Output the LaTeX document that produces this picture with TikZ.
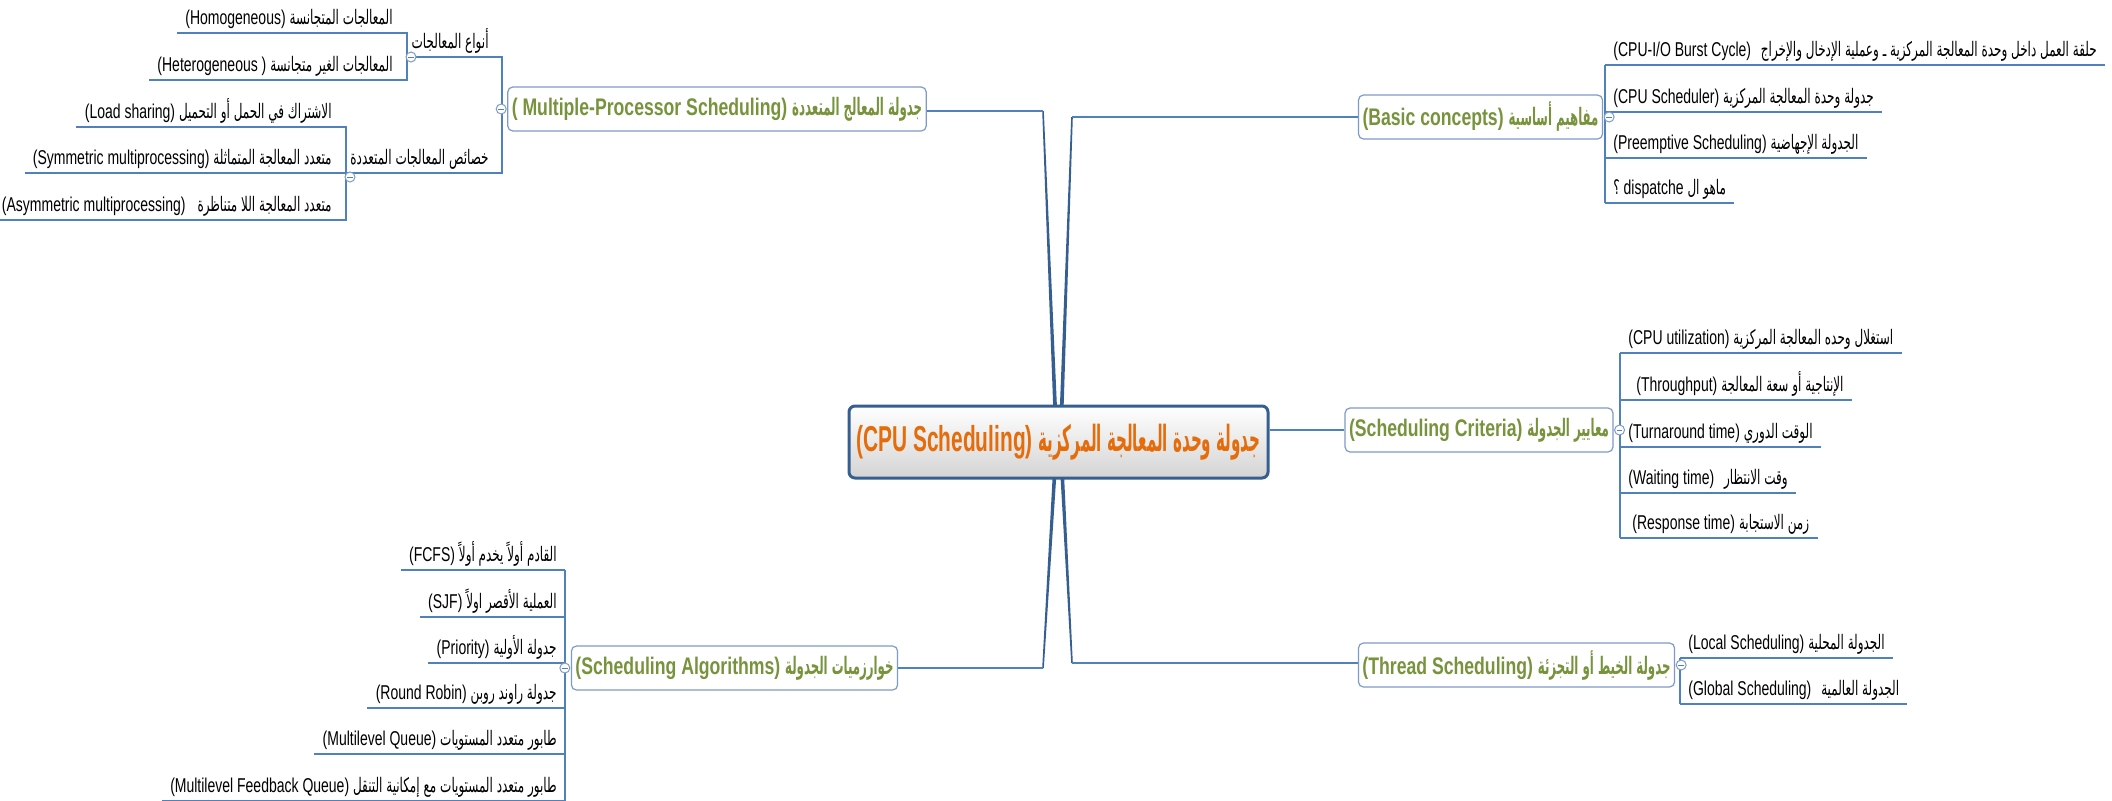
\documentclass[tikz,border=0pt]{standalone}
\usepackage{fontspec}
\setmainfont{Liberation Sans}[FakeStretch=0.7]
\newfontfamily\topicfont{Liberation Sans}[FakeStretch=0.735]
\newfontfamily\rootfont{Liberation Sans}[FakeStretch=0.58]
\newfontfamily\arabicfont[Script=Arabic,FakeStretch=0.6]{DejaVu Sans}
\newfontfamily\arabictopic[Script=Arabic,FakeStretch=0.49]{DejaVu Sans}
\newfontfamily\arabicroot[Script=Arabic,FakeStretch=0.42]{DejaVu Sans}
\TeXXeTstate=1
\newcommand{\ar}[1]{{\arabicfont\beginR#1\endR}}
\newcommand{\art}[1]{{\arabictopic\bfseries\beginR#1\endR}}
\newcommand{\arr}[1]{{\arabicroot\bfseries\beginR#1\endR}}
\usetikzlibrary{backgrounds}
\definecolor{topicgreen}{HTML}{77933C}
\definecolor{rootorange}{HTML}{E46C0A}
\definecolor{linkblue}{HTML}{4F81BD}
\definecolor{rootblue}{HTML}{365F91}
\definecolor{boxblue}{HTML}{7E9BC8}
\tikzset{
  root/.style={draw=rootblue, line width=1.5pt, rounded corners=3pt, top color=white,
    bottom color=black!17, minimum width=209.5pt, minimum height=36pt,
    font=\rootfont\fontsize{18}{20}\selectfont\bfseries, text=rootorange, inner sep=2pt},
  topic/.style={draw=boxblue, line width=0.6pt, rounded corners=2.5pt, fill=white,
    minimum height=22pt, font=\topicfont\fontsize{12}{14}\selectfont\bfseries, text=topicgreen, inner sep=2pt},
  leaf/.style={font=\fontsize{10}{12}\selectfont, inner xsep=4pt, inner ysep=2pt, text depth=2.2pt},
  link/.style={draw=linkblue, line width=0.7pt},
  taper/.style={fill=rootblue},
  fold/.style={circle, draw=boxblue, fill=white, line width=0.5pt, minimum size=5pt, inner sep=0pt,
    path picture={\draw[linkblue, line width=0.5pt]
      ([xshift=-1.4pt]path picture bounding box.center) -- ([xshift=1.4pt]path picture bounding box.center);}},
}
\begin{document}
\begin{tikzpicture}[x=0.5pt,y=-0.5pt]
  \useasboundingbox (0,0) rectangle (2112,800);
  % central topic
  \node[root] (cpu) at (1058.5,442) {(CPU Scheduling) \arr{جدولة وحدة المعالجة المركزية}};
  % main topics
  \node[topic, minimum width=203pt] (mp) at (717,109) {( Multiple-Processor Scheduling) \art{جدولة المعالج المتعددة}};
  \node[topic, minimum width=114.5pt] (basic) at (1480.5,117) {(Basic concepts) \art{مفاهيم أساسية}};
  \node[topic, minimum width=130pt] (crit) at (1479,430) {(Scheduling Criteria) \art{معايير الجدولة}};
  \node[topic, minimum width=153.5pt] (thread) at (1516.5,665) {(Thread Scheduling) \art{جدولة الخيط أو التجزئة}};
  \node[topic, minimum width=158.5pt] (algo) at (734.5,668) {(Scheduling Algorithms) \art{خوارزميات الجدولة}};
  \coordinate (tl) at (1043,111);
  \coordinate (tr) at (1072,117);
  \coordinate (bl) at (1043,668);
  \coordinate (br) at (1072,663);
  % basic concepts
  \node[leaf, anchor=south west] (b1) at (1605,65) {(CPU-I/O Burst Cycle)\hspace{3pt} \ar{حلقة العمل داخل وحدة المعالجة المركزية ـ وعملية الإدخال والإخراج}};
  \node[leaf, anchor=south west] (b2) at (1605,112) {(CPU Scheduler) \ar{جدولة وحدة المعالجة المركزية}};
  \node[leaf, anchor=south west] (b3) at (1605,158) {(Preemptive Scheduling) \ar{الجدولة الإجهاضية}};
  \node[leaf, anchor=south west] (b4) at (1605,203) {\ar{؟} dispatche \ar{ماهو ال}};
  % scheduling criteria
  \node[leaf, anchor=south west] (c1) at (1620,353) {(CPU utilization) \ar{استغلال وحده المعالجة المركزية}};
  \node[leaf, anchor=south west] (c2) at (1620,400) {\hspace{4pt}(Throughput) \ar{الإنتاجية أو سعة المعالجة}};
  \node[leaf, anchor=south west] (c3) at (1620,447) {(Turnaround time) \ar{الوقت الدوري}};
  \node[leaf, anchor=south west] (c4) at (1620,493) {(Waiting time)\hspace{3pt} \ar{وقت الانتظار}};
  \node[leaf, anchor=south west] (c5) at (1620,538) {\hspace{2pt}(Response time) \ar{زمن الاستجابة}};
  % thread scheduling
  \node[leaf, anchor=south west] (t1) at (1680,658) {(Local Scheduling) \ar{الجدولة المحلية}};
  \node[leaf, anchor=south west] (t2) at (1680,704) {(Global Scheduling)\hspace{3pt} \ar{الجدولة العالمية}};
  % scheduling algorithms
  \node[leaf, anchor=south east] (a1) at (565,570) {(FCFS) \ar{القادم أولاً يخدم أولاً}};
  \node[leaf, anchor=south east] (a2) at (565,617) {(SJF) \ar{العملية الأقصر اولاً}};
  \node[leaf, anchor=south east] (a3) at (565,663) {(Priority) \ar{جدولة الأولية}};
  \node[leaf, anchor=south east] (a4) at (565,708) {(Round Robin) \ar{جدولة راوند روبن}};
  \node[leaf, anchor=south east] (a5) at (565,754) {(Multilevel Queue) \ar{طابور متعدد المستويات}};
  \node[leaf, anchor=south east] (a6) at (565,801) {(Multilevel Feedback Queue) \ar{طابور متعدد المستويات مع إمكانية التنقل}};
  % multiple-processor scheduling
  \coordinate (mpk) at (502,109);
  \coordinate (kk) at (407,57);
  \coordinate (pk) at (346,173);
  \node[leaf, anchor=south east] (kinds) at (497,57) {\ar{أنواع المعالجات}};
  \node[leaf, anchor=south east] (props) at (497,173) {\ar{خصائص المعالجات المتعددة}};
  \node[leaf, anchor=south east] (homo) at (401,33) {(Homogeneous) \ar{المعالجات المتجانسة}};
  \node[leaf, anchor=south east] (hetero) at (401,80) {(Heterogeneous ) \ar{المعالجات الغير متجانسة}};
  \node[leaf, anchor=south east] (load) at (340,127) {(Load sharing) \ar{الاشتراك في الحمل أو التحميل}};
  \node[leaf, anchor=south east] (sym) at (340,173) {(Symmetric multiprocessing) \ar{متعدد المعالجة المتماثلة}};
  \node[leaf, anchor=south east] (asym) at (340,220) {(Asymmetric multiprocessing)\hspace{6pt}\ar{متعدد المعالجة اللا متناظرة}};
  % fold markers
  \node[fold] (mpf) at ([xshift=-3pt]mp.west) {};
  \node[fold] (kf) at ([xshift=2pt]kk) {};
  \node[fold] (pf) at ([xshift=2pt,yshift=-2pt]pk) {};
  \node[fold] (basicf) at ([xshift=3pt]basic.east) {};
  \node[fold] (critf) at ([xshift=3pt]crit.east) {};
  \node[fold] (threadf) at ([xshift=3pt]thread.east) {};
  \node[fold] (algof) at ([xshift=-3pt]algo.west) {};
  \begin{scope}[on background layer]
    \fill[white] (0,0) rectangle (2112,800);
    % tapered branches
    \fill[taper] ([xshift=-2pt]cpu.center) -- (cpu.center) -- ([xshift=0.4pt]tl) -- ([xshift=-0.4pt]tl) -- cycle;
    \fill[taper] (cpu.center) -- ([xshift=2pt]cpu.center) -- ([xshift=0.4pt]tr) -- ([xshift=-0.4pt]tr) -- cycle;
    \fill[taper] ([xshift=-2pt]cpu.center) -- (cpu.center) -- ([xshift=0.4pt]bl) -- ([xshift=-0.4pt]bl) -- cycle;
    \fill[taper] (cpu.center) -- ([xshift=2pt]cpu.center) -- ([xshift=0.4pt]br) -- ([xshift=-0.4pt]br) -- cycle;
    \draw[link] (tl) -- (tl -| mp.east);
    \draw[link] (tr) -- (tr -| basic.west);
    \draw[link] (bl) -- (bl -| algo.east);
    \draw[link] (br) -- (br -| thread.west);
    \draw[link] (crit.west) -- (crit.west -| cpu.east);
    % branch underlines
    \foreach \n in {b1,b2,b3,b4,c1,c2,c3,c4,c5,t1,t2,a1,a2,a3,a4,a5,a6}
      \draw[link] (\n.south west) -- (\n.south east);
    \draw[link] (b1.south west) -- (b4.south west);
    \draw[link] (c1.south west) -- (c5.south west);
    \draw[link] (t1.south west) -- (t2.south west);
    \draw[link] (a1.south east) -- (a6.south east);
    \draw[link] (kk) -- (kk -| mpk) -- (pk -| mpk) -- (pk);
    \draw[link] (homo.south west) -- (homo.south west -| kk) -- (hetero.south west -| kk) -- (hetero.south west);
    \draw[link] (load.south west) -- (load.south west -| pk) -- (asym.south west -| pk) -- (asym.south west);
    \draw[link] (sym.south west) -- (sym.south west -| pk);
  \end{scope}
\end{tikzpicture}
\end{document}
